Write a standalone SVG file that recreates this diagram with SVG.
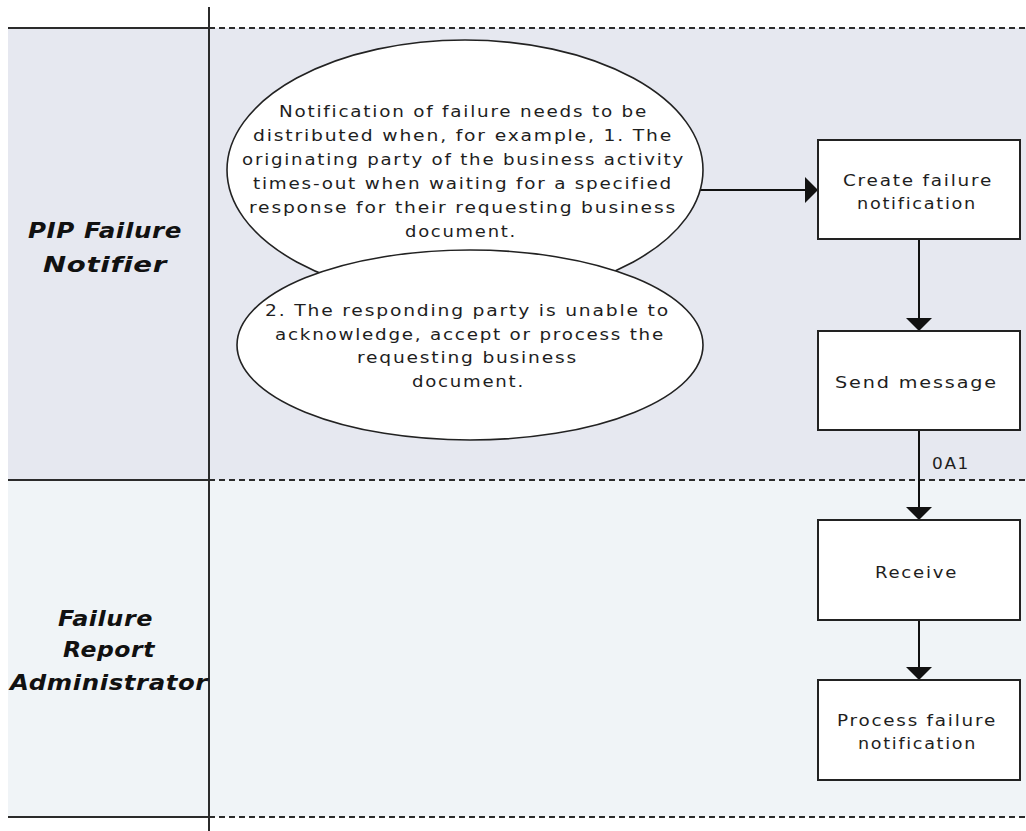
<svg xmlns="http://www.w3.org/2000/svg" width="1026" height="831" viewBox="0 0 1026 831">
<style>
.lane1{fill:#e6e8f0}
.lane2{fill:#f0f4f7}
.solid{stroke:#2b2b2b;stroke-width:2;fill:none}
.dash{stroke:#2b2b2b;stroke-width:2;stroke-dasharray:6 4;fill:none}
.ell{fill:#ffffff;stroke:#222;stroke-width:1.6}
.box{fill:#ffffff;stroke:#222;stroke-width:2}
.t{font-family:"DejaVu Sans",Verdana,"Liberation Sans",sans-serif;font-size:15.5px;letter-spacing:1.5px;fill:#1e1e1e}
.lbl{font-family:"DejaVu Sans",Verdana,"Liberation Sans",sans-serif;font-size:21px;font-weight:bold;font-style:italic;letter-spacing:0.5px;fill:#111}
.conn{stroke:#111;stroke-width:2;fill:none}
</style>
<defs>
<marker id="arr" markerUnits="userSpaceOnUse" markerWidth="14" markerHeight="26" refX="13" refY="13" orient="auto">
<path d="M0,0 L13,13 L0,26 z" fill="#111"/>
</marker>
</defs>
<rect x="0" y="0" width="1026" height="831" fill="#ffffff"/>
<g id="lanes">
<rect class="lane1" x="8" y="28" width="1018" height="452"/>
<rect class="lane2" x="8" y="480" width="1018" height="337"/>
<line class="solid" x1="8" y1="28" x2="209" y2="28"/>
<line class="dash" x1="209" y1="28" x2="1026" y2="28"/>
<line class="solid" x1="8" y1="480" x2="209" y2="480"/>
<line class="dash" x1="209" y1="480" x2="1026" y2="480"/>
<line class="solid" x1="8" y1="817" x2="209" y2="817"/>
<line class="dash" x1="209" y1="817" x2="1026" y2="817"/>
<line class="solid" x1="209" y1="7" x2="209" y2="831"/>
</g>
<g id="lane-pip">
<text class="lbl" x="28" y="238" textLength="154" lengthAdjust="spacingAndGlyphs">PIP Failure</text>
<text class="lbl" x="43" y="272" textLength="124" lengthAdjust="spacingAndGlyphs">Notifier</text>
</g>
<g id="lane-fra">
<text class="lbl" x="58" y="626" textLength="95" lengthAdjust="spacingAndGlyphs">Failure</text>
<text class="lbl" x="63" y="657" textLength="92" lengthAdjust="spacingAndGlyphs">Report</text>
<text class="lbl" x="10" y="690" textLength="198" lengthAdjust="spacingAndGlyphs">Administrator</text>
</g>
<g id="connectors">
<line class="conn" x1="700" y1="190" x2="818" y2="190" marker-end="url(#arr)"/>
<line class="conn" x1="919" y1="239" x2="919" y2="331" marker-end="url(#arr)"/>
<line class="conn" x1="919" y1="430" x2="919" y2="520" marker-end="url(#arr)"/>
<line class="conn" x1="919" y1="620" x2="919" y2="680" marker-end="url(#arr)"/>
<text class="t" x="932" y="469" textLength="38" lengthAdjust="spacingAndGlyphs">0A1</text>
</g>
<g id="note1">
<ellipse class="ell" cx="465" cy="170" rx="238" ry="130"/>
<text class="t" x="279" y="117" textLength="369" lengthAdjust="spacingAndGlyphs">Notification of failure needs to be</text>
<text class="t" x="253" y="141" textLength="420" lengthAdjust="spacingAndGlyphs">distributed when, for example, 1. The</text>
<text class="t" x="242" y="165" textLength="443" lengthAdjust="spacingAndGlyphs">originating party of the business activity</text>
<text class="t" x="253" y="189" textLength="420" lengthAdjust="spacingAndGlyphs">times-out when waiting for a specified</text>
<text class="t" x="249" y="213" textLength="428" lengthAdjust="spacingAndGlyphs">response for their requesting business</text>
<text class="t" x="405" y="237" textLength="112" lengthAdjust="spacingAndGlyphs">document.</text>
</g>
<g id="note2">
<ellipse class="ell" cx="470" cy="345" rx="233" ry="95"/>
<text class="t" x="265" y="316" textLength="405" lengthAdjust="spacingAndGlyphs">2. The responding party is unable to</text>
<text class="t" x="275" y="340" textLength="390" lengthAdjust="spacingAndGlyphs">acknowledge, accept or process the</text>
<text class="t" x="357" y="363" textLength="221" lengthAdjust="spacingAndGlyphs">requesting business</text>
<text class="t" x="412" y="387" textLength="113" lengthAdjust="spacingAndGlyphs">document.</text>
</g>
<g id="create">
<rect class="box" x="818" y="140" width="202" height="99"/>
<text class="t" x="843" y="186" textLength="150" lengthAdjust="spacingAndGlyphs">Create failure</text>
<text class="t" x="857" y="209" textLength="120" lengthAdjust="spacingAndGlyphs">notification</text>
</g>
<g id="send">
<rect class="box" x="818" y="331" width="202" height="99"/>
<text class="t" x="835" y="388" textLength="163" lengthAdjust="spacingAndGlyphs">Send message</text>
</g>
<g id="receive">
<rect class="box" x="818" y="520" width="202" height="100"/>
<text class="t" x="875" y="578" textLength="83" lengthAdjust="spacingAndGlyphs">Receive</text>
</g>
<g id="process">
<rect class="box" x="818" y="680" width="202" height="100"/>
<text class="t" x="837" y="726" textLength="160" lengthAdjust="spacingAndGlyphs">Process failure</text>
<text class="t" x="858" y="749" textLength="119" lengthAdjust="spacingAndGlyphs">notification</text>
</g>
</svg>
